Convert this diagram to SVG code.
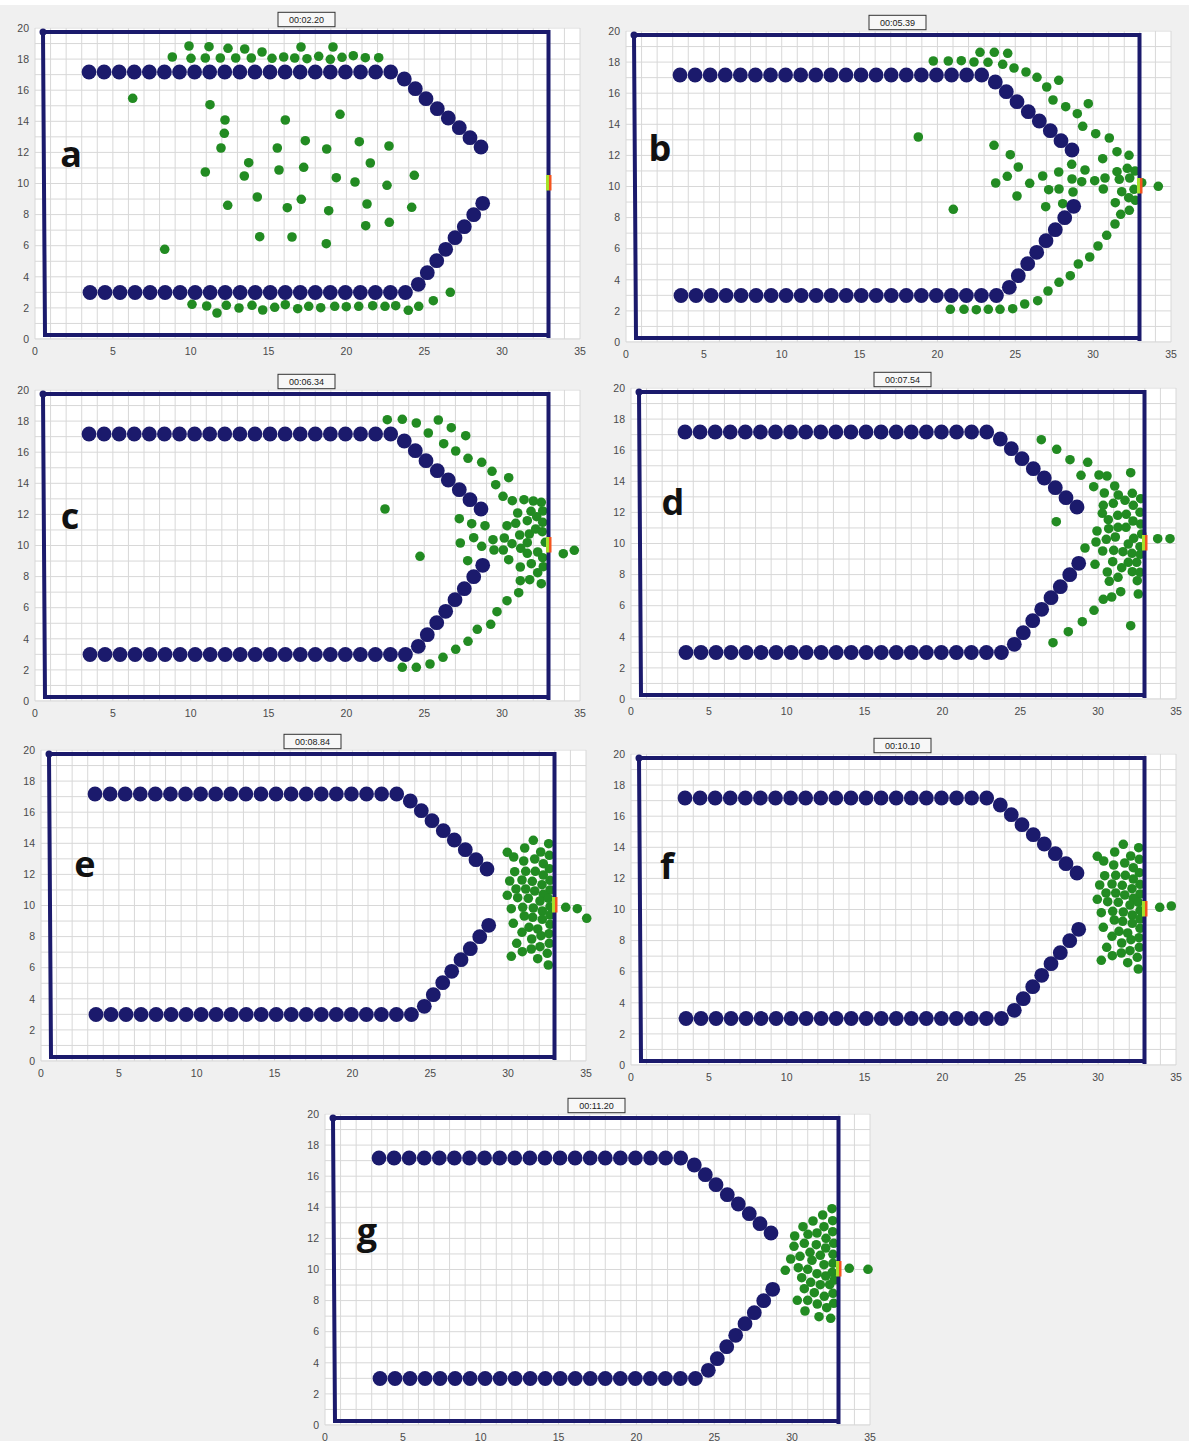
<svg xmlns="http://www.w3.org/2000/svg" xmlns:xlink="http://www.w3.org/1999/xlink" width="1189" height="1441" viewBox="0 0 1189 1441">
<style>
.tick{font-family:"Liberation Sans",Arial,sans-serif;font-size:10.5px;fill:#4a4a4a}
.tx{text-anchor:middle}
.ty{text-anchor:end}
.ts{font-family:"Liberation Sans",Arial,sans-serif;font-size:9px;fill:#222;text-anchor:middle}
.tsbox{fill:#f7f7f7;stroke:#333;stroke-width:1}
.lbl{font-family:"Open Sans","Liberation Sans",sans-serif;font-weight:700;font-size:36px;fill:#111;text-anchor:middle}
.ag circle{fill:#228b22}
.wall circle{fill:#1b1a6c}
.grid{stroke:#d8d8d8;stroke-width:1;fill:none}
.bnd{stroke:#1b1a6c;stroke-width:4;fill:none}
</style>
<defs>
<linearGradient id="exitg" x1="0" x2="1" y1="0" y2="0">
<stop offset="0" stop-color="#a6e22a"/><stop offset="0.45" stop-color="#a6e22a"/><stop offset="0.55" stop-color="#f4541e"/><stop offset="1" stop-color="#f4541e"/>
</linearGradient>
<g id="frameBack">
<rect x="0" y="-312" width="545" height="311" fill="#ffffff"/>
<path class="grid" d="M0,0V-311M15.57,0V-311M31.14,0V-311M46.71,0V-311M62.28,0V-311M77.86,0V-311M93.43,0V-311M109,0V-311M124.57,0V-311M140.14,0V-311M155.71,0V-311M171.28,0V-311M186.85,0V-311M202.43,0V-311M218,0V-311M233.57,0V-311M249.14,0V-311M264.71,0V-311M280.28,0V-311M295.85,0V-311M311.43,0V-311M327,0V-311M342.57,0V-311M358.14,0V-311M373.71,0V-311M389.28,0V-311M404.85,0V-311M420.43,0V-311M436,0V-311M451.57,0V-311M467.14,0V-311M482.71,0V-311M498.28,0V-311M513.85,0V-311M529.42,0V-311M545,0V-311M0,0H545M0,-15.55H545M0,-31.1H545M0,-46.65H545M0,-62.2H545M0,-77.75H545M0,-93.3H545M0,-108.85H545M0,-124.4H545M0,-139.95H545M0,-155.5H545M0,-171.05H545M0,-186.6H545M0,-202.15H545M0,-217.7H545M0,-233.25H545M0,-248.8H545M0,-264.35H545M0,-279.9H545M0,-295.45H545M0,-311H545"/>
<g class="tick tx">
<text x="0" y="16">0</text><text x="77.86" y="16">5</text><text x="155.71" y="16">10</text><text x="233.57" y="16">15</text><text x="311.43" y="16">20</text><text x="389.28" y="16">25</text><text x="467.14" y="16">30</text><text x="545" y="16">35</text>
</g>
<g class="tick ty">
<text x="-6" y="3.7">0</text><text x="-6" y="-27.4">2</text><text x="-6" y="-58.5">4</text><text x="-6" y="-89.6">6</text><text x="-6" y="-120.7">8</text><text x="-6" y="-151.8">10</text><text x="-6" y="-182.9">12</text><text x="-6" y="-214">14</text><text x="-6" y="-245.1">16</text><text x="-6" y="-276.2">18</text><text x="-6" y="-307.3">20</text>
</g>
</g>
<g id="frameFront">
<g class="wall">
<circle cx="54" cy="-267" r="7.4"/><circle cx="69.09" cy="-267" r="7.4"/><circle cx="84.17" cy="-267" r="7.4"/><circle cx="99.26" cy="-267" r="7.4"/><circle cx="114.34" cy="-267" r="7.4"/><circle cx="129.43" cy="-267" r="7.4"/><circle cx="144.51" cy="-267" r="7.4"/><circle cx="159.6" cy="-267" r="7.4"/><circle cx="174.68" cy="-267" r="7.4"/><circle cx="189.77" cy="-267" r="7.4"/><circle cx="204.85" cy="-267" r="7.4"/><circle cx="219.94" cy="-267" r="7.4"/><circle cx="235.02" cy="-267" r="7.4"/><circle cx="250.11" cy="-267" r="7.4"/><circle cx="265.19" cy="-267" r="7.4"/><circle cx="280.28" cy="-267" r="7.4"/><circle cx="295.36" cy="-267" r="7.4"/><circle cx="310.45" cy="-267" r="7.4"/><circle cx="325.53" cy="-267" r="7.4"/><circle cx="340.62" cy="-267" r="7.4"/><circle cx="355.7" cy="-267" r="7.4"/>
<circle cx="369.3" cy="-260" r="7.4"/><circle cx="380.3" cy="-250.3" r="7.4"/><circle cx="391" cy="-240.3" r="7.4"/><circle cx="402.3" cy="-230.3" r="7.4"/><circle cx="413.3" cy="-221" r="7.4"/><circle cx="424.3" cy="-211.3" r="7.4"/><circle cx="435" cy="-201.3" r="7.4"/><circle cx="446" cy="-192" r="7.4"/>
<circle cx="55" cy="-46.5" r="7.4"/><circle cx="70.02" cy="-46.5" r="7.4"/><circle cx="85.04" cy="-46.5" r="7.4"/><circle cx="100.06" cy="-46.5" r="7.4"/><circle cx="115.08" cy="-46.5" r="7.4"/><circle cx="130.1" cy="-46.5" r="7.4"/><circle cx="145.12" cy="-46.5" r="7.4"/><circle cx="160.14" cy="-46.5" r="7.4"/><circle cx="175.16" cy="-46.5" r="7.4"/><circle cx="190.18" cy="-46.5" r="7.4"/><circle cx="205.2" cy="-46.5" r="7.4"/><circle cx="220.22" cy="-46.5" r="7.4"/><circle cx="235.24" cy="-46.5" r="7.4"/><circle cx="250.26" cy="-46.5" r="7.4"/><circle cx="265.28" cy="-46.5" r="7.4"/><circle cx="280.3" cy="-46.5" r="7.4"/><circle cx="295.32" cy="-46.5" r="7.4"/><circle cx="310.34" cy="-46.5" r="7.4"/><circle cx="325.36" cy="-46.5" r="7.4"/><circle cx="340.38" cy="-46.5" r="7.4"/><circle cx="355.4" cy="-46.5" r="7.4"/><circle cx="370.42" cy="-46.5" r="7.4"/>
<circle cx="383.3" cy="-54.7" r="7.4"/><circle cx="392.3" cy="-66.3" r="7.4"/><circle cx="401.7" cy="-78.3" r="7.4"/><circle cx="410.7" cy="-89.7" r="7.4"/><circle cx="420" cy="-101.3" r="7.4"/><circle cx="429.3" cy="-112.3" r="7.4"/><circle cx="438.7" cy="-124.3" r="7.4"/><circle cx="447.7" cy="-135.7" r="7.4"/>
</g>
<path class="bnd" d="M8,-307L10,-4L513.5,-4M8,-307L513.5,-307L513.5,-1"/>
<circle cx="8" cy="-307" r="3.5" fill="#1b1a6c"/>
<rect x="511" y="-164" width="5.5" height="15.5" fill="url(#exitg)"/>
</g>
</defs>
<rect x="0" y="0" width="1189" height="1441" fill="#f0f0f0"/>
<rect x="0" y="0" width="1189" height="5" fill="#ffffff"/>

<g id="panel-a">
<use href="#frameBack" x="35" y="339"/>
<rect class="tsbox" x="278" y="12.3" width="57" height="14.4"/>
<text class="ts" x="306.5" y="22.8">00:02.20</text>
<g class="ag">
<circle cx="189" cy="46" r="4.8"/><circle cx="209" cy="46.7" r="4.8"/><circle cx="228" cy="48.3" r="4.8"/><circle cx="244.7" cy="49" r="4.8"/><circle cx="262" cy="52" r="4.8"/><circle cx="301" cy="47" r="4.8"/><circle cx="333" cy="47" r="4.8"/><circle cx="172.3" cy="57" r="4.8"/><circle cx="191" cy="58.3" r="4.8"/><circle cx="205.3" cy="58" r="4.8"/><circle cx="220.3" cy="58" r="4.8"/><circle cx="235.7" cy="58" r="4.8"/><circle cx="251.3" cy="58" r="4.8"/><circle cx="272" cy="58.3" r="4.8"/><circle cx="283.7" cy="57" r="4.8"/><circle cx="294.7" cy="58" r="4.8"/><circle cx="307" cy="58.7" r="4.8"/><circle cx="318.7" cy="56.3" r="4.8"/><circle cx="330.3" cy="59.3" r="4.8"/><circle cx="342" cy="57.3" r="4.8"/><circle cx="353.3" cy="55.7" r="4.8"/><circle cx="365.3" cy="57.7" r="4.8"/><circle cx="378.7" cy="57.7" r="4.8"/>
<circle cx="132.7" cy="98.3" r="4.8"/><circle cx="210" cy="104.7" r="4.8"/><circle cx="225" cy="120" r="4.8"/><circle cx="224.3" cy="133.3" r="4.8"/><circle cx="221" cy="148" r="4.8"/><circle cx="205.3" cy="172" r="4.8"/><circle cx="248.7" cy="162.7" r="4.8"/><circle cx="244.3" cy="176" r="4.8"/><circle cx="227.7" cy="205.3" r="4.8"/><circle cx="257.3" cy="197" r="4.8"/><circle cx="259.7" cy="236.7" r="4.8"/><circle cx="164.7" cy="249.3" r="4.8"/><circle cx="285.3" cy="120" r="4.8"/><circle cx="277.3" cy="148" r="4.8"/><circle cx="279" cy="170" r="4.8"/><circle cx="305.3" cy="140.7" r="4.8"/><circle cx="303.7" cy="167.3" r="4.8"/><circle cx="287.3" cy="207.7" r="4.8"/><circle cx="301.3" cy="199.3" r="4.8"/><circle cx="292" cy="237" r="4.8"/><circle cx="340" cy="114.3" r="4.8"/><circle cx="326.7" cy="149" r="4.8"/><circle cx="336.3" cy="177.7" r="4.8"/><circle cx="328.7" cy="210.7" r="4.8"/><circle cx="326.3" cy="243.7" r="4.8"/><circle cx="359.3" cy="141.7" r="4.8"/><circle cx="370.3" cy="163" r="4.8"/><circle cx="355" cy="182" r="4.8"/><circle cx="367" cy="204" r="4.8"/><circle cx="365.7" cy="225.7" r="4.8"/><circle cx="389" cy="146" r="4.8"/><circle cx="387" cy="185.3" r="4.8"/><circle cx="389.3" cy="222.3" r="4.8"/><circle cx="414.3" cy="175.3" r="4.8"/><circle cx="411.7" cy="207.3" r="4.8"/>
<circle cx="192" cy="304.3" r="4.8"/><circle cx="206.7" cy="306" r="4.8"/><circle cx="217" cy="313" r="4.8"/><circle cx="226.3" cy="305.3" r="4.8"/><circle cx="239" cy="308" r="4.8"/><circle cx="252" cy="305.3" r="4.8"/><circle cx="262.7" cy="310" r="4.8"/><circle cx="274.7" cy="307.3" r="4.8"/><circle cx="285.3" cy="304.7" r="4.8"/><circle cx="297.7" cy="308.7" r="4.8"/><circle cx="308.7" cy="306.3" r="4.8"/><circle cx="320.7" cy="307.7" r="4.8"/><circle cx="334.7" cy="306.3" r="4.8"/><circle cx="346.3" cy="306.7" r="4.8"/><circle cx="358.7" cy="306.3" r="4.8"/><circle cx="372.7" cy="305.7" r="4.8"/><circle cx="385" cy="306.3" r="4.8"/><circle cx="395.7" cy="305.7" r="4.8"/><circle cx="408.3" cy="310.3" r="4.8"/><circle cx="418.7" cy="306.3" r="4.8"/><circle cx="433.3" cy="300.7" r="4.8"/><circle cx="450.3" cy="292.3" r="4.8"/>
</g>
<use href="#frameFront" x="35" y="339"/>
<text class="lbl" x="71" y="167">a</text>
</g>

<g id="panel-b">
<use href="#frameBack" x="626" y="342"/>
<rect class="tsbox" x="869" y="15.3" width="57" height="14.4"/>
<text class="ts" x="897.5" y="25.8">00:05.39</text>
<g class="ag">
<circle cx="933.3" cy="61" r="4.8"/><circle cx="948.3" cy="61" r="4.8"/><circle cx="961.3" cy="60.7" r="4.8"/><circle cx="974" cy="62" r="4.8"/><circle cx="980" cy="52.3" r="4.8"/><circle cx="994.3" cy="52.3" r="4.8"/><circle cx="1007.7" cy="53.3" r="4.8"/><circle cx="988" cy="62.3" r="4.8"/><circle cx="1002.7" cy="64.3" r="4.8"/><circle cx="1014" cy="68" r="4.8"/><circle cx="1026" cy="72" r="4.8"/><circle cx="1037" cy="77.3" r="4.8"/><circle cx="1046.7" cy="87" r="4.8"/><circle cx="1058.7" cy="80.3" r="4.8"/><circle cx="1053" cy="100" r="4.8"/><circle cx="1065.7" cy="106.7" r="4.8"/><circle cx="1077.3" cy="113.7" r="4.8"/><circle cx="1088.3" cy="103.7" r="4.8"/>
<circle cx="1082.7" cy="126.3" r="4.8"/><circle cx="1095.7" cy="133.7" r="4.8"/><circle cx="1109.3" cy="138" r="4.8"/><circle cx="994" cy="145.3" r="4.8"/><circle cx="1010.3" cy="154.7" r="4.8"/><circle cx="1018.3" cy="167" r="4.8"/><circle cx="1007.3" cy="176.3" r="4.8"/><circle cx="995.7" cy="183" r="4.8"/><circle cx="1029.7" cy="183.3" r="4.8"/><circle cx="1017" cy="196" r="4.8"/><circle cx="1042.7" cy="176" r="4.8"/><circle cx="1048.7" cy="189.7" r="4.8"/><circle cx="1058.7" cy="172" r="4.8"/><circle cx="1059" cy="189" r="4.8"/><circle cx="1071.7" cy="164.3" r="4.8"/><circle cx="1072" cy="179" r="4.8"/><circle cx="1073" cy="192" r="4.8"/><circle cx="1045.7" cy="206.7" r="4.8"/><circle cx="1062.7" cy="203.7" r="4.8"/><circle cx="1085" cy="170" r="4.8"/><circle cx="1081.7" cy="181.7" r="4.8"/><circle cx="1094.7" cy="180.7" r="4.8"/><circle cx="1102.7" cy="158.7" r="4.8"/><circle cx="1117" cy="151.7" r="4.8"/><circle cx="1129" cy="155.3" r="4.8"/><circle cx="1117" cy="171.7" r="4.8"/><circle cx="1127.3" cy="168.3" r="4.8"/><circle cx="1135" cy="171" r="4.8"/><circle cx="1105" cy="178" r="4.8"/><circle cx="1119.3" cy="179.3" r="4.8"/><circle cx="1129.7" cy="178" r="4.8"/><circle cx="1103.3" cy="189" r="4.8"/><circle cx="1121.7" cy="191.7" r="4.8"/><circle cx="1134" cy="189.3" r="4.8"/><circle cx="1141.7" cy="182.7" r="4.8"/><circle cx="1158.3" cy="186.3" r="4.8"/><circle cx="1128.7" cy="197.7" r="4.8"/><circle cx="1135.3" cy="200.3" r="4.8"/><circle cx="1115.3" cy="202.7" r="4.8"/><circle cx="1129.3" cy="210.3" r="4.8"/><circle cx="1120.7" cy="214.3" r="4.8"/><circle cx="1115" cy="224" r="4.8"/><circle cx="1106.7" cy="235.3" r="4.8"/><circle cx="1098" cy="246" r="4.8"/><circle cx="1089.7" cy="257" r="4.8"/><circle cx="1078.3" cy="264" r="4.8"/><circle cx="1070.3" cy="275.7" r="4.8"/><circle cx="1059" cy="282.3" r="4.8"/><circle cx="1048" cy="291" r="4.8"/><circle cx="1037.7" cy="300.7" r="4.8"/><circle cx="1024.7" cy="304" r="4.8"/><circle cx="1012.7" cy="308.7" r="4.8"/><circle cx="1000" cy="309.3" r="4.8"/><circle cx="988.3" cy="309.3" r="4.8"/><circle cx="976.3" cy="309.7" r="4.8"/><circle cx="964" cy="309.3" r="4.8"/><circle cx="950.3" cy="309.3" r="4.8"/><circle cx="918.3" cy="137" r="4.8"/><circle cx="953.3" cy="209.3" r="4.8"/>
</g>
<use href="#frameFront" x="626" y="342"/>
<text class="lbl" x="660" y="161">b</text>
</g>

<g id="panel-c">
<use href="#frameBack" x="35" y="701"/>
<rect class="tsbox" x="278" y="374.3" width="57" height="14.4"/>
<text class="ts" x="306.5" y="384.8">00:06.34</text>
<g class="ag">
<circle cx="387.3" cy="419.7" r="4.8"/><circle cx="402.3" cy="419.3" r="4.8"/><circle cx="416.3" cy="423" r="4.8"/><circle cx="438.3" cy="420" r="4.8"/><circle cx="428.3" cy="433" r="4.8"/><circle cx="451.3" cy="427.7" r="4.8"/><circle cx="465.7" cy="435.7" r="4.8"/><circle cx="443.7" cy="443.7" r="4.8"/><circle cx="455.7" cy="451" r="4.8"/><circle cx="468" cy="458.3" r="4.8"/><circle cx="481.7" cy="462.3" r="4.8"/><circle cx="492" cy="471.3" r="4.8"/><circle cx="508.7" cy="477.7" r="4.8"/><circle cx="495.7" cy="484.7" r="4.8"/><circle cx="503" cy="496.3" r="4.8"/><circle cx="512.3" cy="500.7" r="4.8"/><circle cx="524" cy="499.7" r="4.8"/><circle cx="533.3" cy="501" r="4.8"/><circle cx="541.3" cy="502.3" r="4.8"/><circle cx="517.7" cy="513" r="4.8"/><circle cx="531" cy="511.3" r="4.8"/><circle cx="542.7" cy="511" r="4.8"/><circle cx="527.3" cy="520.7" r="4.8"/><circle cx="536.7" cy="516.7" r="4.8"/><circle cx="542.7" cy="522.3" r="4.8"/><circle cx="515.7" cy="523.3" r="4.8"/><circle cx="507" cy="525.7" r="4.8"/><circle cx="385" cy="509" r="4.8"/><circle cx="459.3" cy="518.7" r="4.8"/><circle cx="471.7" cy="523.7" r="4.8"/><circle cx="485" cy="525.7" r="4.8"/><circle cx="460.3" cy="543" r="4.8"/><circle cx="473.7" cy="537.7" r="4.8"/><circle cx="481.7" cy="546.3" r="4.8"/><circle cx="493" cy="539.7" r="4.8"/><circle cx="494" cy="550" r="4.8"/><circle cx="504.3" cy="538" r="4.8"/><circle cx="503.3" cy="550" r="4.8"/><circle cx="512" cy="543.7" r="4.8"/><circle cx="519.7" cy="535" r="4.8"/><circle cx="529.3" cy="534" r="4.8"/><circle cx="535.7" cy="529" r="4.8"/><circle cx="542.3" cy="531.7" r="4.8"/><circle cx="520.7" cy="548.3" r="4.8"/><circle cx="527.3" cy="542.7" r="4.8"/><circle cx="527.3" cy="553.3" r="4.8"/><circle cx="537.7" cy="552" r="4.8"/><circle cx="545.3" cy="542.3" r="4.8"/><circle cx="542.7" cy="557.7" r="4.8"/><circle cx="508.7" cy="559.7" r="4.8"/><circle cx="520.3" cy="567" r="4.8"/><circle cx="531.3" cy="563.7" r="4.8"/><circle cx="537.7" cy="572.7" r="4.8"/><circle cx="543.3" cy="566.7" r="4.8"/><circle cx="520.3" cy="580.7" r="4.8"/><circle cx="529.7" cy="579.7" r="4.8"/><circle cx="541.3" cy="583.7" r="4.8"/><circle cx="518.7" cy="592.7" r="4.8"/><circle cx="507" cy="600.7" r="4.8"/><circle cx="497" cy="611.7" r="4.8"/><circle cx="490.7" cy="624.3" r="4.8"/><circle cx="477.3" cy="629.3" r="4.8"/><circle cx="468" cy="641.3" r="4.8"/><circle cx="455.7" cy="649.3" r="4.8"/><circle cx="443" cy="657.3" r="4.8"/><circle cx="430" cy="664" r="4.8"/><circle cx="416.3" cy="667.3" r="4.8"/><circle cx="402.3" cy="667.3" r="4.8"/><circle cx="420" cy="556.3" r="4.8"/><circle cx="467.7" cy="560.7" r="4.8"/><circle cx="563.3" cy="553.7" r="4.8"/><circle cx="574.3" cy="550.3" r="4.8"/>
</g>
<use href="#frameFront" x="35" y="701"/>
<text class="lbl" x="70" y="529">c</text>
</g>

<g id="panel-d">
<use href="#frameBack" x="631" y="699"/>
<rect class="tsbox" x="874" y="372.3" width="57" height="14.4"/>
<text class="ts" x="902.5" y="382.8">00:07.54</text>
<g class="ag">
<circle cx="1041.3" cy="439.7" r="4.8"/><circle cx="1056.7" cy="449.3" r="4.8"/><circle cx="1070" cy="459.7" r="4.8"/><circle cx="1087.7" cy="462.3" r="4.8"/><circle cx="1081" cy="475.3" r="4.8"/><circle cx="1099" cy="475" r="4.8"/><circle cx="1107" cy="476" r="4.8"/><circle cx="1130.7" cy="472.7" r="4.8"/><circle cx="1093.7" cy="486.7" r="4.8"/><circle cx="1114.7" cy="486" r="4.8"/><circle cx="1104.3" cy="493" r="4.8"/><circle cx="1118.3" cy="495" r="4.8"/><circle cx="1132.3" cy="493.3" r="4.8"/><circle cx="1125" cy="500.3" r="4.8"/><circle cx="1113.3" cy="503.3" r="4.8"/><circle cx="1103.3" cy="505.3" r="4.8"/><circle cx="1133.3" cy="505.3" r="4.8"/><circle cx="1140.7" cy="498.7" r="4.8"/><circle cx="1102.3" cy="513.3" r="4.8"/><circle cx="1108.3" cy="519.7" r="4.8"/><circle cx="1117.7" cy="515.3" r="4.8"/><circle cx="1126.3" cy="514.3" r="4.8"/><circle cx="1140" cy="512.3" r="4.8"/><circle cx="1133" cy="521" r="4.8"/><circle cx="1140.7" cy="524" r="4.8"/><circle cx="1056.3" cy="521.7" r="4.8"/><circle cx="1097" cy="531" r="4.8"/><circle cx="1108.7" cy="528.7" r="4.8"/><circle cx="1118" cy="527.3" r="4.8"/><circle cx="1126" cy="527.3" r="4.8"/><circle cx="1141.7" cy="534" r="4.8"/><circle cx="1115.3" cy="537" r="4.8"/><circle cx="1106.3" cy="539.3" r="4.8"/><circle cx="1096" cy="542" r="4.8"/><circle cx="1133.7" cy="538.3" r="4.8"/><circle cx="1128.3" cy="544" r="4.8"/><circle cx="1140" cy="546.7" r="4.8"/><circle cx="1085" cy="548" r="4.8"/><circle cx="1102.7" cy="551" r="4.8"/><circle cx="1113.7" cy="550.3" r="4.8"/><circle cx="1123" cy="551.7" r="4.8"/><circle cx="1132" cy="553.3" r="4.8"/><circle cx="1140.3" cy="554.3" r="4.8"/><circle cx="1157.7" cy="538.7" r="4.8"/><circle cx="1170" cy="538.7" r="4.8"/><circle cx="1095" cy="564.3" r="4.8"/><circle cx="1112.7" cy="561.7" r="4.8"/><circle cx="1121.7" cy="567.7" r="4.8"/><circle cx="1128.3" cy="562.3" r="4.8"/><circle cx="1136.7" cy="562.3" r="4.8"/><circle cx="1107.3" cy="572" r="4.8"/><circle cx="1132.3" cy="571.7" r="4.8"/><circle cx="1140" cy="572.3" r="4.8"/><circle cx="1118" cy="577.3" r="4.8"/><circle cx="1109.3" cy="581.3" r="4.8"/><circle cx="1137.3" cy="580.7" r="4.8"/><circle cx="1120.7" cy="591.7" r="4.8"/><circle cx="1111.7" cy="597" r="4.8"/><circle cx="1103.3" cy="599.3" r="4.8"/><circle cx="1138.3" cy="594" r="4.8"/><circle cx="1094" cy="610.3" r="4.8"/><circle cx="1082.3" cy="621.7" r="4.8"/><circle cx="1068.3" cy="631.7" r="4.8"/><circle cx="1053" cy="642.7" r="4.8"/><circle cx="1130.7" cy="625.7" r="4.8"/>
</g>
<use href="#frameFront" x="631" y="699"/>
<text class="lbl" x="673" y="515">d</text>
</g>

<g id="panel-e">
<use href="#frameBack" x="41" y="1061"/>
<rect class="tsbox" x="284" y="734.3" width="57" height="14.4"/>
<text class="ts" x="312.5" y="744.8">00:08.84</text>
<g class="ag" id="clusterE">
<circle cx="533.3" cy="840.3" r="4.8"/><circle cx="548.7" cy="843.7" r="4.8"/><circle cx="524.7" cy="848" r="4.8"/><circle cx="507.3" cy="852.3" r="4.8"/><circle cx="540.7" cy="852" r="4.8"/><circle cx="513.7" cy="857" r="4.8"/><circle cx="549.3" cy="855.3" r="4.8"/><circle cx="534.7" cy="859" r="4.8"/><circle cx="523.7" cy="861" r="4.8"/><circle cx="543.3" cy="863.7" r="4.8"/><circle cx="549.3" cy="868.7" r="4.8"/><circle cx="514.7" cy="871.7" r="4.8"/><circle cx="525.7" cy="871.3" r="4.8"/><circle cx="535.3" cy="871.3" r="4.8"/><circle cx="543.3" cy="875" r="4.8"/><circle cx="509.7" cy="881" r="4.8"/><circle cx="522" cy="880" r="4.8"/><circle cx="532.3" cy="881.3" r="4.8"/><circle cx="542" cy="884.7" r="4.8"/><circle cx="550" cy="880.3" r="4.8"/><circle cx="516" cy="889" r="4.8"/><circle cx="525.7" cy="889" r="4.8"/><circle cx="534.7" cy="891" r="4.8"/><circle cx="550" cy="890" r="4.8"/><circle cx="507.3" cy="895.3" r="4.8"/><circle cx="517.7" cy="897.7" r="4.8"/><circle cx="528.3" cy="898.3" r="4.8"/><circle cx="543.3" cy="894.3" r="4.8"/><circle cx="540" cy="901" r="4.8"/><circle cx="548.3" cy="898.3" r="4.8"/><circle cx="511.3" cy="908.7" r="4.8"/><circle cx="522.7" cy="907.3" r="4.8"/><circle cx="533.3" cy="908" r="4.8"/><circle cx="542.3" cy="911" r="4.8"/><circle cx="550" cy="906.7" r="4.8"/><circle cx="524.3" cy="916" r="4.8"/><circle cx="532.7" cy="917.3" r="4.8"/><circle cx="542.3" cy="919.3" r="4.8"/><circle cx="550" cy="915" r="4.8"/><circle cx="513.3" cy="923.3" r="4.8"/><circle cx="529" cy="927.3" r="4.8"/><circle cx="537.7" cy="929" r="4.8"/><circle cx="550" cy="924.3" r="4.8"/><circle cx="522" cy="932.3" r="4.8"/><circle cx="541" cy="935.7" r="4.8"/><circle cx="549" cy="933.7" r="4.8"/><circle cx="531.7" cy="939" r="4.8"/><circle cx="516.7" cy="943.3" r="4.8"/><circle cx="540" cy="946.7" r="4.8"/><circle cx="549.3" cy="943.3" r="4.8"/><circle cx="522.3" cy="951.7" r="4.8"/><circle cx="531.3" cy="949" r="4.8"/><circle cx="547.3" cy="953.3" r="4.8"/><circle cx="511.3" cy="956.3" r="4.8"/><circle cx="537.7" cy="958.7" r="4.8"/><circle cx="548.3" cy="965" r="4.8"/><circle cx="565.7" cy="907.3" r="4.8"/><circle cx="577.3" cy="908.7" r="4.8"/><circle cx="586.7" cy="918.3" r="4.8"/>
</g>
<use href="#frameFront" x="41" y="1061"/>
<text class="lbl" x="85" y="877">e</text>
</g>

<g id="panel-f">
<use href="#frameBack" x="631" y="1065"/>
<rect class="tsbox" x="874" y="738.3" width="57" height="14.4"/>
<text class="ts" x="902.5" y="748.8">00:10.10</text>
<g class="ag" transform="translate(590,4)">
<circle cx="533.3" cy="840.3" r="4.8"/><circle cx="548.7" cy="843.7" r="4.8"/><circle cx="524.7" cy="848" r="4.8"/><circle cx="507.3" cy="852.3" r="4.8"/><circle cx="540.7" cy="852" r="4.8"/><circle cx="513.7" cy="857" r="4.8"/><circle cx="549.3" cy="855.3" r="4.8"/><circle cx="534.7" cy="859" r="4.8"/><circle cx="523.7" cy="861" r="4.8"/><circle cx="543.3" cy="863.7" r="4.8"/><circle cx="549.3" cy="868.7" r="4.8"/><circle cx="514.7" cy="871.7" r="4.8"/><circle cx="525.7" cy="871.3" r="4.8"/><circle cx="535.3" cy="871.3" r="4.8"/><circle cx="543.3" cy="875" r="4.8"/><circle cx="509.7" cy="881" r="4.8"/><circle cx="522" cy="880" r="4.8"/><circle cx="532.3" cy="881.3" r="4.8"/><circle cx="542" cy="884.7" r="4.8"/><circle cx="550" cy="880.3" r="4.8"/><circle cx="516" cy="889" r="4.8"/><circle cx="525.7" cy="889" r="4.8"/><circle cx="534.7" cy="891" r="4.8"/><circle cx="550" cy="890" r="4.8"/><circle cx="507.3" cy="895.3" r="4.8"/><circle cx="517.7" cy="897.7" r="4.8"/><circle cx="528.3" cy="898.3" r="4.8"/><circle cx="543.3" cy="894.3" r="4.8"/><circle cx="540" cy="901" r="4.8"/><circle cx="548.3" cy="898.3" r="4.8"/><circle cx="511.3" cy="908.7" r="4.8"/><circle cx="522.7" cy="907.3" r="4.8"/><circle cx="533.3" cy="908" r="4.8"/><circle cx="542.3" cy="911" r="4.8"/><circle cx="550" cy="906.7" r="4.8"/><circle cx="524.3" cy="916" r="4.8"/><circle cx="532.7" cy="917.3" r="4.8"/><circle cx="542.3" cy="919.3" r="4.8"/><circle cx="550" cy="915" r="4.8"/><circle cx="513.3" cy="923.3" r="4.8"/><circle cx="529" cy="927.3" r="4.8"/><circle cx="537.7" cy="929" r="4.8"/><circle cx="550" cy="924.3" r="4.8"/><circle cx="522" cy="932.3" r="4.8"/><circle cx="541" cy="935.7" r="4.8"/><circle cx="549" cy="933.7" r="4.8"/><circle cx="531.7" cy="939" r="4.8"/><circle cx="516.7" cy="943.3" r="4.8"/><circle cx="540" cy="946.7" r="4.8"/><circle cx="549.3" cy="943.3" r="4.8"/><circle cx="522.3" cy="951.7" r="4.8"/><circle cx="531.3" cy="949" r="4.8"/><circle cx="547.3" cy="953.3" r="4.8"/><circle cx="511.3" cy="956.3" r="4.8"/><circle cx="537.7" cy="958.7" r="4.8"/><circle cx="548.3" cy="965" r="4.8"/><circle cx="569.7" cy="903.3" r="4.8"/><circle cx="581.3" cy="902" r="4.8"/>
</g>
<use href="#frameFront" x="631" y="1065"/>
<text class="lbl" x="667" y="879">f</text>
</g>

<g id="panel-g">
<use href="#frameBack" x="325" y="1425"/>
<rect class="tsbox" x="568" y="1098.3" width="57" height="14.4"/>
<text class="ts" x="596.5" y="1108.8">00:11.20</text>
<g class="ag">
<circle cx="832" cy="1208.7" r="4.8"/><circle cx="822.7" cy="1215" r="4.8"/><circle cx="813" cy="1221" r="4.8"/><circle cx="832.7" cy="1220.7" r="4.8"/><circle cx="803" cy="1226.7" r="4.8"/><circle cx="824" cy="1226.7" r="4.8"/><circle cx="832.7" cy="1231.7" r="4.8"/><circle cx="794.7" cy="1236" r="4.8"/><circle cx="808" cy="1234.3" r="4.8"/><circle cx="817" cy="1233" r="4.8"/><circle cx="826" cy="1238.3" r="4.8"/><circle cx="794" cy="1246.3" r="4.8"/><circle cx="804.3" cy="1243.3" r="4.8"/><circle cx="816.3" cy="1244.7" r="4.8"/><circle cx="825.7" cy="1248" r="4.8"/><circle cx="833.7" cy="1243.3" r="4.8"/><circle cx="790.7" cy="1259" r="4.8"/><circle cx="800" cy="1256.3" r="4.8"/><circle cx="810" cy="1252.3" r="4.8"/><circle cx="820.3" cy="1255.3" r="4.8"/><circle cx="833" cy="1254.3" r="4.8"/><circle cx="812" cy="1260.3" r="4.8"/><circle cx="824" cy="1264.7" r="4.8"/><circle cx="833" cy="1263.3" r="4.8"/><circle cx="785.3" cy="1270.3" r="4.8"/><circle cx="798.3" cy="1267.7" r="4.8"/><circle cx="807.7" cy="1269.3" r="4.8"/><circle cx="817" cy="1273.7" r="4.8"/><circle cx="825.7" cy="1276" r="4.8"/><circle cx="832.3" cy="1272.3" r="4.8"/><circle cx="801.7" cy="1277.7" r="4.8"/><circle cx="810.7" cy="1282.3" r="4.8"/><circle cx="820.3" cy="1284.7" r="4.8"/><circle cx="829.7" cy="1284.7" r="4.8"/><circle cx="834.3" cy="1280" r="4.8"/><circle cx="804.3" cy="1288.7" r="4.8"/><circle cx="814.3" cy="1292.7" r="4.8"/><circle cx="824.3" cy="1296.3" r="4.8"/><circle cx="833" cy="1293.3" r="4.8"/><circle cx="797.3" cy="1300.3" r="4.8"/><circle cx="807.7" cy="1300.3" r="4.8"/><circle cx="817.3" cy="1304" r="4.8"/><circle cx="826.7" cy="1307.7" r="4.8"/><circle cx="833.7" cy="1303.3" r="4.8"/><circle cx="805" cy="1311" r="4.8"/><circle cx="819" cy="1316.7" r="4.8"/><circle cx="830.7" cy="1318.3" r="4.8"/><circle cx="849.3" cy="1268.3" r="4.8"/><circle cx="868" cy="1269.3" r="4.8"/>
</g>
<use href="#frameFront" x="325" y="1425"/>
<text class="lbl" x="367" y="1244">g</text>
</g>
</svg>
